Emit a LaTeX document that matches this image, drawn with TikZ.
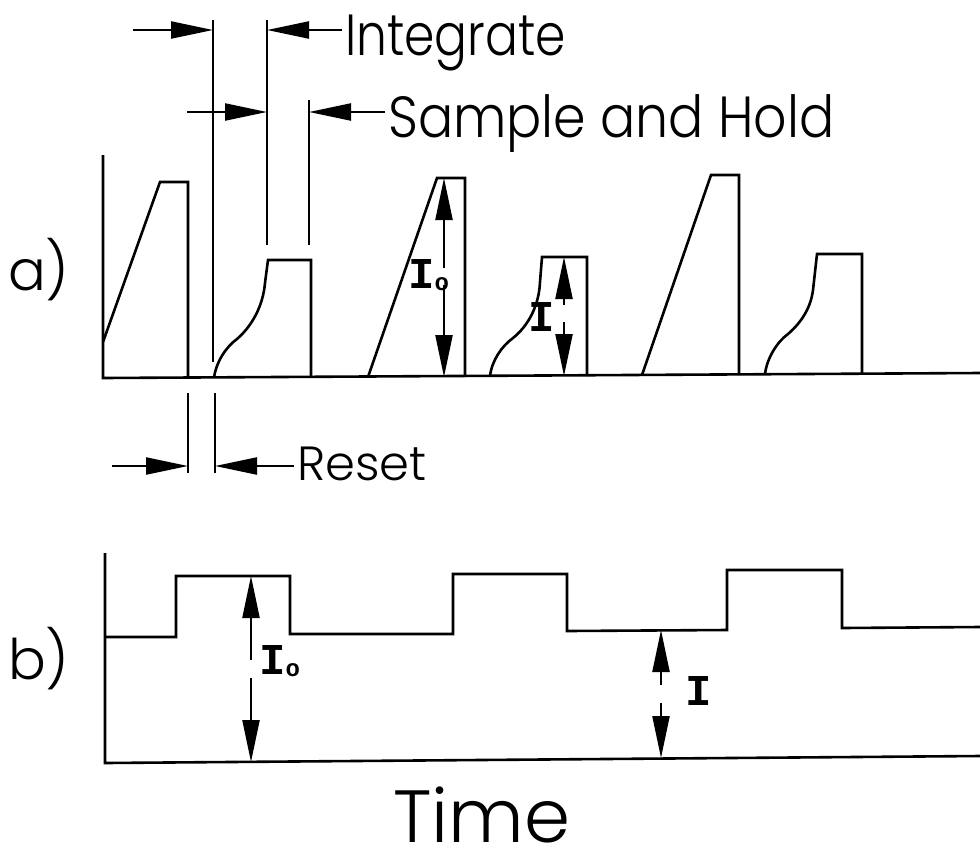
\documentclass[tikz,border=0pt]{standalone}
\usepackage{fontspec}
\setmainfont{Poppins}[UprightFont=* Light]
\newfontfamily\symfont{Liberation Mono}
\usetikzlibrary{arrows.meta}

\begin{document}
\begin{tikzpicture}[x=1pt,y=-1pt,
    wave/.style={line width=2.6pt, line join=miter},
    guide/.style={line width=2.4pt},
    dimarrow/.style={line width=2.2pt, -{Triangle[length=42pt,width=17pt]}},
    lbltext/.style={inner sep=0pt, anchor=base west, font=\fontsize{#1}{#1}\selectfont},
    curlabel/.style={inner sep=0pt, anchor=base west, font=\symfont\bfseries\fontsize{44}{44}\selectfont}]
  \useasboundingbox (0,0) rectangle (980,855);

  % a) integrator output
  \draw[wave] (103,155) -- (103,378) -- (980,373);
  \draw[wave] (103,342) -- (160,182) -- (188,182) -- (188,378);
  \draw[wave] (214,378) .. controls (216,362) and (226,347) .. (237,339)
      .. controls (252,326) and (263,306) .. (265,283) -- (268,260) -- (311,260) -- (311,377);
  \draw[wave] (368,377) -- (437,178) -- (465,178) -- (465,377);
  \draw[wave] (490,376) .. controls (492,360) and (502,346) .. (513,338)
      .. controls (528,326) and (539,306) .. (540,282) -- (542,257) -- (587,257) -- (587,376);
  \draw[wave] (642,375) -- (711,175) -- (739,175) -- (739,375);
  \draw[wave] (765,374) .. controls (767,358) and (777,342) .. (788,334)
      .. controls (803,321) and (811,306) .. (813,290) -- (817,254) -- (862,254) -- (862,374);

  % timing marks
  \draw[guide] (213,20) -- (213,362);
  \draw[guide] (267,20) -- (267,245);
  \draw[guide] (309,100) -- (309,245);
  \draw[guide] (188,393) -- (188,473);
  \draw[guide] (215,393) -- (215,473);

  \coordinate (intL) at (133,30);
  \coordinate (intA) at (213,30);
  \coordinate (intR) at (342,30);
  \coordinate (intB) at (267,30);
  \coordinate (shL) at (187,112);
  \coordinate (shA) at (267,112);
  \coordinate (shR) at (385,112);
  \coordinate (shB) at (309,112);
  \coordinate (rsL) at (112,466);
  \coordinate (rsA) at (188,466);
  \coordinate (rsR) at (294,466);
  \coordinate (rsB) at (215,466);
  \draw[dimarrow] (intL) -- (intA);
  \draw[dimarrow] (intR) -- (intB);
  \draw[dimarrow] (shL) -- (shA);
  \draw[dimarrow] (shR) -- (shB);
  \draw[dimarrow] (rsL) -- (rsA);
  \draw[dimarrow] (rsR) -- (rsB);

  \node[lbltext=58] (integ) at (345,55) {\scalebox{0.84}[1]{Integrate}};
  \node[lbltext=58] (samp) at (388,137) {\scalebox{0.9}[1]{Sample and Hold}};
  \node[lbltext=48] (reset) at (297,480) {Reset};

  % amplitudes in a)
  \coordinate (aIoT) at (444,178);
  \coordinate (aIoU) at (444,268);
  \coordinate (aIoD) at (444,285);
  \coordinate (aIoB) at (444,377);
  \draw[dimarrow] (aIoU) -- (aIoT);
  \draw[dimarrow] (aIoD) -- (aIoB);
  \node[curlabel] (aIo) at (408,288) {I\raisebox{-2pt}{\fontsize{24}{24}\selectfont o}};
  \coordinate (aIT) at (564,257);
  \coordinate (aIU) at (564,305);
  \coordinate (aID) at (564,322);
  \coordinate (aIB) at (564,376);
  \draw[dimarrow] (aIU) -- (aIT);
  \draw[dimarrow] (aID) -- (aIB);
  \node[curlabel] (aI) at (528,331) {I};

  % b) sample and hold output
  \draw[wave] (105,553) -- (105,763) -- (980,756);
  \draw[wave] (105,637) -- (176,637) -- (176,576) -- (290,576) -- (290,634) -- (453,634)
      -- (453,574) -- (567,574) -- (567,631) -- (727,630) -- (727,570) -- (842,570)
      -- (842,628) -- (980,627);

  \coordinate (bIoT) at (251,576);
  \coordinate (bIoU) at (251,660);
  \coordinate (bIoD) at (251,678);
  \coordinate (bIoB) at (251,762);
  \draw[dimarrow] (bIoU) -- (bIoT);
  \draw[dimarrow] (bIoD) -- (bIoB);
  \node[curlabel] (bIo) at (259,674) {I\raisebox{-2pt}{\fontsize{24}{24}\selectfont o}};
  \coordinate (bIT) at (661,630);
  \coordinate (bIU) at (661,685);
  \coordinate (bID) at (661,703);
  \coordinate (bIB) at (661,758);
  \draw[dimarrow] (bIU) -- (bIT);
  \draw[dimarrow] (bID) -- (bIB);
  \node[curlabel] (bI) at (685,705) {I};

  \node[lbltext=56] (pa) at (8,290) {a)};
  \node[lbltext=56] (pb) at (8,679) {b)};
  \node[lbltext=74] (time) at (393,842) {Time};
\end{tikzpicture}
\end{document}
